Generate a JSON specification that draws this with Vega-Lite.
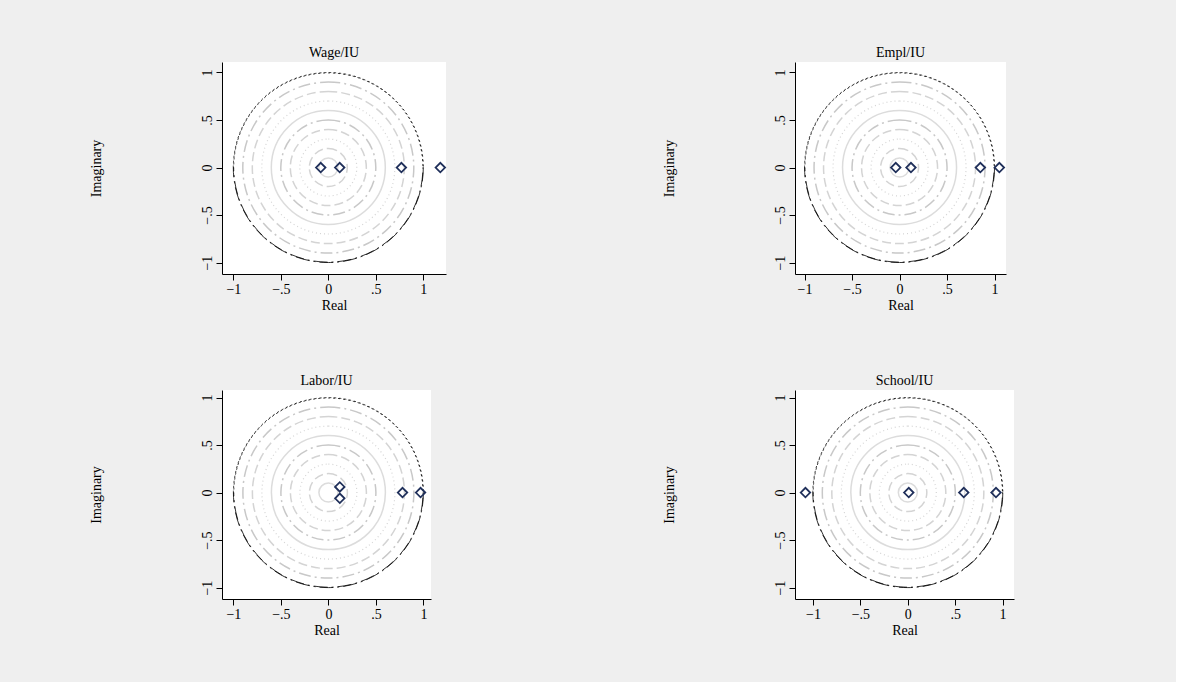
{
  "$schema": "https://vega.github.io/schema/vega-lite/v6.json",
  "background": "#efefef",
  "padding": {"left": 89, "top": 46, "right": 162, "bottom": 45},
  "datasets": {
    "circles": [{"r": 0.1}, {"r": 0.2}, {"r": 0.3}, {"r": 0.4}, {"r": 0.5}, {"r": 0.6}, {"r": 0.7}, {"r": 0.8}, {"r": 0.9}],
    "unit": [{"r": 1, "r2": 0.996}],
    "wage": [{"re": -0.08, "im": 0}, {"re": 0.12, "im": 0}, {"re": 0.77, "im": 0}, {"re": 1.18, "im": 0}],
    "empl": [{"re": -0.04, "im": 0}, {"re": 0.12, "im": 0}, {"re": 0.85, "im": 0}, {"re": 1.05, "im": 0}],
    "labor": [{"re": 0.12, "im": 0.06}, {"re": 0.12, "im": -0.06}, {"re": 0.78, "im": 0}, {"re": 0.97, "im": 0}],
    "school": [{"re": -1.08, "im": 0}, {"re": 0.01, "im": 0}, {"re": 0.59, "im": 0}, {"re": 0.93, "im": 0}]
  },
  "config": {
    "font": "Liberation Serif",
    "view": {"stroke": null, "fill": "white"},
    "title": {"font": "Liberation Serif", "fontSize": 14, "fontWeight": "normal", "offset": 2},
    "point": {"opacity": 1},
    "axis": {
      "labelFont": "Liberation Serif", "titleFont": "Liberation Serif",
      "labelFontSize": 14, "titleFontSize": 14, "titleFontWeight": "normal",
      "domainColor": "black", "tickColor": "black", "labelColor": "black", "titleColor": "black",
      "grid": false, "tickSize": 6, "values": [-1, -0.5, 0, 0.5, 1],
      "labelExpr": "datum.value == 0 ? '0' : replace(replace(datum.label, '0.5', '.5'), '1.0', '1')"
    },
    "axisX": {"titlePadding": 2},
    "axisY": {"labelAngle": -90, "labelAlign": "center", "labelBaseline": "bottom", "titlePadding": 97}
  },
  "columns": 2,
  "spacing": {"column": 213, "row": 62},
  "concat": [
    {
      "title": "Wage/IU", "width": 224, "height": 212,
      "encoding": {
        "x": {"type": "quantitative", "scale": {"domain": [-1.12, 1.24], "nice": false, "zero": false}, "title": "Real"},
        "y": {"type": "quantitative", "scale": {"domain": [-1.12, 1.11], "nice": false, "zero": false}, "title": "Imaginary"}
      },
      "layer": [
        {"data": {"name": "circles"}, "transform": [{"filter": "datum.r == 0.9 || datum.r == 0.5"}], "mark": {"type": "arc", "filled": false, "theta": 0, "theta2": 6.2832, "stroke": "#c8c8c8", "strokeWidth": 1.5, "strokeDash": [12, 4, 2, 4]},
         "encoding": {"x": {"datum": 0}, "y": {"datum": 0}, "radius": {"field": "r", "type": "quantitative", "stack": null, "scale": {"type": "linear", "domain": [0, 1], "range": [0, 95], "zero": true}}}},
        {"data": {"name": "circles"}, "transform": [{"filter": "datum.r == 0.8 || datum.r == 0.4 || datum.r == 0.2"}], "mark": {"type": "arc", "filled": false, "theta": 0, "theta2": 6.2832, "stroke": "#d4d4d4", "strokeWidth": 1.5, "strokeDash": [9, 4]},
         "encoding": {"x": {"datum": 0}, "y": {"datum": 0}, "radius": {"field": "r", "type": "quantitative", "stack": null, "scale": {"type": "linear", "domain": [0, 1], "range": [0, 95], "zero": true}}}},
        {"data": {"name": "circles"}, "transform": [{"filter": "datum.r == 0.7 || datum.r == 0.3"}], "mark": {"type": "arc", "filled": false, "theta": 0, "theta2": 6.2832, "stroke": "#d4d4d4", "strokeWidth": 1.2, "strokeDash": [1, 3]},
         "encoding": {"x": {"datum": 0}, "y": {"datum": 0}, "radius": {"field": "r", "type": "quantitative", "stack": null, "scale": {"type": "linear", "domain": [0, 1], "range": [0, 95], "zero": true}}}},
        {"data": {"name": "circles"}, "transform": [{"filter": "datum.r == 0.6 || datum.r == 0.1"}], "mark": {"type": "arc", "filled": false, "theta": 0, "theta2": 6.2832, "stroke": "#dcdcdc", "strokeWidth": 1.5},
         "encoding": {"x": {"datum": 0}, "y": {"datum": 0}, "radius": {"field": "r", "type": "quantitative", "stack": null, "scale": {"type": "linear", "domain": [0, 1], "range": [0, 95], "zero": true}}}},
        {"data": {"name": "unit"}, "mark": {"type": "arc", "filled": false, "theta": -1.5708, "theta2": 1.5708, "stroke": "black", "strokeWidth": 0.8, "strokeDash": [2, 3]},
         "encoding": {"x": {"datum": 0}, "y": {"datum": 0}, "radius": {"field": "r", "type": "quantitative", "stack": null, "scale": {"type": "linear", "domain": [0, 1], "range": [0, 95], "zero": true}}, "radius2": {"field": "r2"}}},
        {"data": {"name": "unit"}, "mark": {"type": "arc", "filled": false, "theta": 1.5708, "theta2": 4.7124, "stroke": "black", "strokeWidth": 0.8, "strokeDash": [14, 4, 2, 4]},
         "encoding": {"x": {"datum": 0}, "y": {"datum": 0}, "radius": {"field": "r", "type": "quantitative", "stack": null, "scale": {"type": "linear", "domain": [0, 1], "range": [0, 95], "zero": true}}, "radius2": {"field": "r2"}}},
        {"data": {"name": "wage"}, "mark": {"type": "point", "shape": "diamond", "filled": false, "stroke": "#1f2f5a", "strokeWidth": 1.8, "size": 90},
         "encoding": {"x": {"field": "re"}, "y": {"field": "im"}}}
      ]
    },
    {
      "title": "Empl/IU", "width": 211, "height": 212,
      "encoding": {
        "x": {"type": "quantitative", "scale": {"domain": [-1.1, 1.12], "nice": false, "zero": false}, "title": "Real"},
        "y": {"type": "quantitative", "scale": {"domain": [-1.12, 1.11], "nice": false, "zero": false}, "title": "Imaginary"}
      },
      "layer": [
        {"data": {"name": "circles"}, "transform": [{"filter": "datum.r == 0.9 || datum.r == 0.5"}], "mark": {"type": "arc", "filled": false, "theta": 0, "theta2": 6.2832, "stroke": "#c8c8c8", "strokeWidth": 1.5, "strokeDash": [12, 4, 2, 4]},
         "encoding": {"x": {"datum": 0}, "y": {"datum": 0}, "radius": {"field": "r", "type": "quantitative", "stack": null, "scale": {"type": "linear", "domain": [0, 1], "range": [0, 95], "zero": true}}}},
        {"data": {"name": "circles"}, "transform": [{"filter": "datum.r == 0.8 || datum.r == 0.4 || datum.r == 0.2"}], "mark": {"type": "arc", "filled": false, "theta": 0, "theta2": 6.2832, "stroke": "#d4d4d4", "strokeWidth": 1.5, "strokeDash": [9, 4]},
         "encoding": {"x": {"datum": 0}, "y": {"datum": 0}, "radius": {"field": "r", "type": "quantitative", "stack": null, "scale": {"type": "linear", "domain": [0, 1], "range": [0, 95], "zero": true}}}},
        {"data": {"name": "circles"}, "transform": [{"filter": "datum.r == 0.7 || datum.r == 0.3"}], "mark": {"type": "arc", "filled": false, "theta": 0, "theta2": 6.2832, "stroke": "#d4d4d4", "strokeWidth": 1.2, "strokeDash": [1, 3]},
         "encoding": {"x": {"datum": 0}, "y": {"datum": 0}, "radius": {"field": "r", "type": "quantitative", "stack": null, "scale": {"type": "linear", "domain": [0, 1], "range": [0, 95], "zero": true}}}},
        {"data": {"name": "circles"}, "transform": [{"filter": "datum.r == 0.6 || datum.r == 0.1"}], "mark": {"type": "arc", "filled": false, "theta": 0, "theta2": 6.2832, "stroke": "#dcdcdc", "strokeWidth": 1.5},
         "encoding": {"x": {"datum": 0}, "y": {"datum": 0}, "radius": {"field": "r", "type": "quantitative", "stack": null, "scale": {"type": "linear", "domain": [0, 1], "range": [0, 95], "zero": true}}}},
        {"data": {"name": "unit"}, "mark": {"type": "arc", "filled": false, "theta": -1.5708, "theta2": 1.5708, "stroke": "black", "strokeWidth": 0.8, "strokeDash": [2, 3]},
         "encoding": {"x": {"datum": 0}, "y": {"datum": 0}, "radius": {"field": "r", "type": "quantitative", "stack": null, "scale": {"type": "linear", "domain": [0, 1], "range": [0, 95], "zero": true}}, "radius2": {"field": "r2"}}},
        {"data": {"name": "unit"}, "mark": {"type": "arc", "filled": false, "theta": 1.5708, "theta2": 4.7124, "stroke": "black", "strokeWidth": 0.8, "strokeDash": [14, 4, 2, 4]},
         "encoding": {"x": {"datum": 0}, "y": {"datum": 0}, "radius": {"field": "r", "type": "quantitative", "stack": null, "scale": {"type": "linear", "domain": [0, 1], "range": [0, 95], "zero": true}}, "radius2": {"field": "r2"}}},
        {"data": {"name": "empl"}, "mark": {"type": "point", "shape": "diamond", "filled": false, "stroke": "#1f2f5a", "strokeWidth": 1.8, "size": 90},
         "encoding": {"x": {"field": "re"}, "y": {"field": "im"}}}
      ]
    },
    {
      "title": "Labor/IU", "width": 209, "height": 209,
      "encoding": {
        "x": {"type": "quantitative", "scale": {"domain": [-1.12, 1.08], "nice": false, "zero": false}, "title": "Real"},
        "y": {"type": "quantitative", "scale": {"domain": [-1.12, 1.08], "nice": false, "zero": false}, "title": "Imaginary"}
      },
      "layer": [
        {"data": {"name": "circles"}, "transform": [{"filter": "datum.r == 0.9 || datum.r == 0.5"}], "mark": {"type": "arc", "filled": false, "theta": 0, "theta2": 6.2832, "stroke": "#c8c8c8", "strokeWidth": 1.5, "strokeDash": [12, 4, 2, 4]},
         "encoding": {"x": {"datum": 0}, "y": {"datum": 0}, "radius": {"field": "r", "type": "quantitative", "stack": null, "scale": {"type": "linear", "domain": [0, 1], "range": [0, 95], "zero": true}}}},
        {"data": {"name": "circles"}, "transform": [{"filter": "datum.r == 0.8 || datum.r == 0.4 || datum.r == 0.2"}], "mark": {"type": "arc", "filled": false, "theta": 0, "theta2": 6.2832, "stroke": "#d4d4d4", "strokeWidth": 1.5, "strokeDash": [9, 4]},
         "encoding": {"x": {"datum": 0}, "y": {"datum": 0}, "radius": {"field": "r", "type": "quantitative", "stack": null, "scale": {"type": "linear", "domain": [0, 1], "range": [0, 95], "zero": true}}}},
        {"data": {"name": "circles"}, "transform": [{"filter": "datum.r == 0.7 || datum.r == 0.3"}], "mark": {"type": "arc", "filled": false, "theta": 0, "theta2": 6.2832, "stroke": "#d4d4d4", "strokeWidth": 1.2, "strokeDash": [1, 3]},
         "encoding": {"x": {"datum": 0}, "y": {"datum": 0}, "radius": {"field": "r", "type": "quantitative", "stack": null, "scale": {"type": "linear", "domain": [0, 1], "range": [0, 95], "zero": true}}}},
        {"data": {"name": "circles"}, "transform": [{"filter": "datum.r == 0.6 || datum.r == 0.1"}], "mark": {"type": "arc", "filled": false, "theta": 0, "theta2": 6.2832, "stroke": "#dcdcdc", "strokeWidth": 1.5},
         "encoding": {"x": {"datum": 0}, "y": {"datum": 0}, "radius": {"field": "r", "type": "quantitative", "stack": null, "scale": {"type": "linear", "domain": [0, 1], "range": [0, 95], "zero": true}}}},
        {"data": {"name": "unit"}, "mark": {"type": "arc", "filled": false, "theta": -1.5708, "theta2": 1.5708, "stroke": "black", "strokeWidth": 0.8, "strokeDash": [2, 3]},
         "encoding": {"x": {"datum": 0}, "y": {"datum": 0}, "radius": {"field": "r", "type": "quantitative", "stack": null, "scale": {"type": "linear", "domain": [0, 1], "range": [0, 95], "zero": true}}, "radius2": {"field": "r2"}}},
        {"data": {"name": "unit"}, "mark": {"type": "arc", "filled": false, "theta": 1.5708, "theta2": 4.7124, "stroke": "black", "strokeWidth": 0.8, "strokeDash": [14, 4, 2, 4]},
         "encoding": {"x": {"datum": 0}, "y": {"datum": 0}, "radius": {"field": "r", "type": "quantitative", "stack": null, "scale": {"type": "linear", "domain": [0, 1], "range": [0, 95], "zero": true}}, "radius2": {"field": "r2"}}},
        {"data": {"name": "labor"}, "mark": {"type": "point", "shape": "diamond", "filled": false, "stroke": "#1f2f5a", "strokeWidth": 1.8, "size": 90},
         "encoding": {"x": {"field": "re"}, "y": {"field": "im"}}}
      ]
    },
    {
      "title": "School/IU", "width": 219, "height": 209,
      "encoding": {
        "x": {"type": "quantitative", "scale": {"domain": [-1.19, 1.12], "nice": false, "zero": false}, "title": "Real"},
        "y": {"type": "quantitative", "scale": {"domain": [-1.12, 1.08], "nice": false, "zero": false}, "title": "Imaginary"}
      },
      "layer": [
        {"data": {"name": "circles"}, "transform": [{"filter": "datum.r == 0.9 || datum.r == 0.5"}], "mark": {"type": "arc", "filled": false, "theta": 0, "theta2": 6.2832, "stroke": "#c8c8c8", "strokeWidth": 1.5, "strokeDash": [12, 4, 2, 4]},
         "encoding": {"x": {"datum": 0}, "y": {"datum": 0}, "radius": {"field": "r", "type": "quantitative", "stack": null, "scale": {"type": "linear", "domain": [0, 1], "range": [0, 95], "zero": true}}}},
        {"data": {"name": "circles"}, "transform": [{"filter": "datum.r == 0.8 || datum.r == 0.4 || datum.r == 0.2"}], "mark": {"type": "arc", "filled": false, "theta": 0, "theta2": 6.2832, "stroke": "#d4d4d4", "strokeWidth": 1.5, "strokeDash": [9, 4]},
         "encoding": {"x": {"datum": 0}, "y": {"datum": 0}, "radius": {"field": "r", "type": "quantitative", "stack": null, "scale": {"type": "linear", "domain": [0, 1], "range": [0, 95], "zero": true}}}},
        {"data": {"name": "circles"}, "transform": [{"filter": "datum.r == 0.7 || datum.r == 0.3"}], "mark": {"type": "arc", "filled": false, "theta": 0, "theta2": 6.2832, "stroke": "#d4d4d4", "strokeWidth": 1.2, "strokeDash": [1, 3]},
         "encoding": {"x": {"datum": 0}, "y": {"datum": 0}, "radius": {"field": "r", "type": "quantitative", "stack": null, "scale": {"type": "linear", "domain": [0, 1], "range": [0, 95], "zero": true}}}},
        {"data": {"name": "circles"}, "transform": [{"filter": "datum.r == 0.6 || datum.r == 0.1"}], "mark": {"type": "arc", "filled": false, "theta": 0, "theta2": 6.2832, "stroke": "#dcdcdc", "strokeWidth": 1.5},
         "encoding": {"x": {"datum": 0}, "y": {"datum": 0}, "radius": {"field": "r", "type": "quantitative", "stack": null, "scale": {"type": "linear", "domain": [0, 1], "range": [0, 95], "zero": true}}}},
        {"data": {"name": "unit"}, "mark": {"type": "arc", "filled": false, "theta": -1.5708, "theta2": 1.5708, "stroke": "black", "strokeWidth": 0.8, "strokeDash": [2, 3]},
         "encoding": {"x": {"datum": 0}, "y": {"datum": 0}, "radius": {"field": "r", "type": "quantitative", "stack": null, "scale": {"type": "linear", "domain": [0, 1], "range": [0, 95], "zero": true}}, "radius2": {"field": "r2"}}},
        {"data": {"name": "unit"}, "mark": {"type": "arc", "filled": false, "theta": 1.5708, "theta2": 4.7124, "stroke": "black", "strokeWidth": 0.8, "strokeDash": [14, 4, 2, 4]},
         "encoding": {"x": {"datum": 0}, "y": {"datum": 0}, "radius": {"field": "r", "type": "quantitative", "stack": null, "scale": {"type": "linear", "domain": [0, 1], "range": [0, 95], "zero": true}}, "radius2": {"field": "r2"}}},
        {"data": {"name": "school"}, "mark": {"type": "point", "shape": "diamond", "filled": false, "stroke": "#1f2f5a", "strokeWidth": 1.8, "size": 90},
         "encoding": {"x": {"field": "re"}, "y": {"field": "im"}}}
      ]
    }
  ]
}
